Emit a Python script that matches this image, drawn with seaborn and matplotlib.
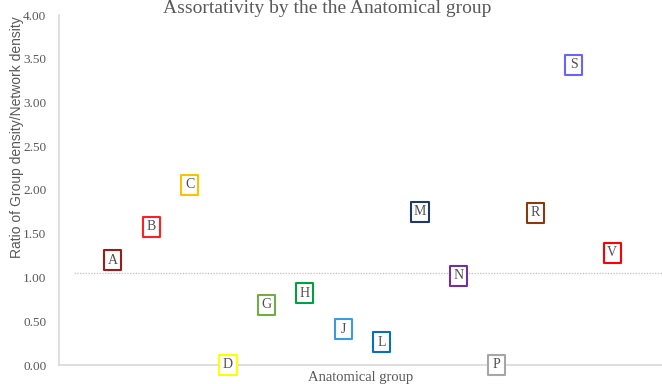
import matplotlib
matplotlib.use("Agg")
import matplotlib.pyplot as plt
import seaborn as sns
import pandas as pd
from matplotlib.path import Path

groups = ["A", "B", "C", "D", "G", "H", "J", "L", "M", "N", "P", "R", "S", "V"]
positions = [1, 2, 3, 4, 5, 6, 7, 8, 9, 10, 11, 12, 13, 14]
ratios = [1.20, 1.58, 2.06, 0.00, 0.69, 0.82, 0.41, 0.26, 1.75, 1.02, 0.00, 1.74, 3.43, 1.28]
colors = ["#9B1C1C", "#FF2020", "#FFC000", "#FFFF00", "#70AD47", "#00A040",
          "#3C9BE0", "#0A6EBD", "#1F3864", "#7030A0", "#A6A6A6", "#843C0C",
          "#6666FF", "#FF0000"]
network_ratio = 1.05
yticks = [0, 0.5, 1.0, 1.5, 2.0, 2.5, 3.0, 3.5, 4.0]

df = pd.DataFrame({"group": groups, "pos": positions, "ratio": ratios})

sns.set_style("white")
plt.rcParams["font.family"] = ["Liberation Serif", "DejaVu Serif"]

fig = plt.figure(figsize=(6.62, 3.84), dpi=100)
ax = fig.add_axes([59 / 662, 19 / 384, 603 / 662, 350 / 384])

ax.axhline(network_ratio, xmin=(0 + 0.4) / 15.7, xmax=1, color="#C8C8C8",
           linestyle=(0, (1, 1)), linewidth=1, zorder=1)

box = Path([(-0.85, -1), (0.85, -1), (0.85, 1), (-0.85, 1), (-0.85, -1)],
           [Path.MOVETO, Path.LINETO, Path.LINETO, Path.LINETO, Path.CLOSEPOLY])
sns.scatterplot(data=df, x="pos", y="ratio", hue="group",
                palette=dict(zip(groups, colors)), marker=box, s=210,
                facecolor="white", linewidth=1.5, legend=False, ax=ax,
                zorder=3, clip_on=False)
coll = ax.collections[-1]
coll.set_edgecolors(colors)
coll.set_facecolors("white")

for g, x, y in zip(groups, positions, ratios):
    ax.text(x, y, g, ha="center", va="center", fontsize=10, color="#505050",
            zorder=4)

ax.set_xlim(-0.4, 15.3)
ax.set_ylim(0, 4)
ax.set_yticks(yticks)
ax.set_yticklabels([f"{v:.2f}" for v in yticks], fontsize=9.5, color="#595959")
ax.set_xticks([])
ax.tick_params(axis="y", length=0, pad=9)
for s in ["top", "right"]:
    ax.spines[s].set_visible(False)
ax.spines["left"].set_color("#D9D9D9")
ax.spines["bottom"].set_color("#D9D9D9")
ax.spines["left"].set_linewidth(1.2)
ax.spines["bottom"].set_linewidth(1.2)

ax.set_xlabel("Anatomical group", fontsize=10.5, color="#595959", labelpad=4)
ax.set_ylabel("Ratio of Group density/Network density", fontsize=10,
              color="#595959", family=["Liberation Sans", "DejaVu Sans"])
ax.yaxis.set_label_coords(-0.058, 0.65)
fig.text(327 / 662, 1.0, "Assortativity by the the Anatomical group",
         ha="center", va="top", fontsize=14, color="#595959")

fig.savefig("out.png", dpi=100)
